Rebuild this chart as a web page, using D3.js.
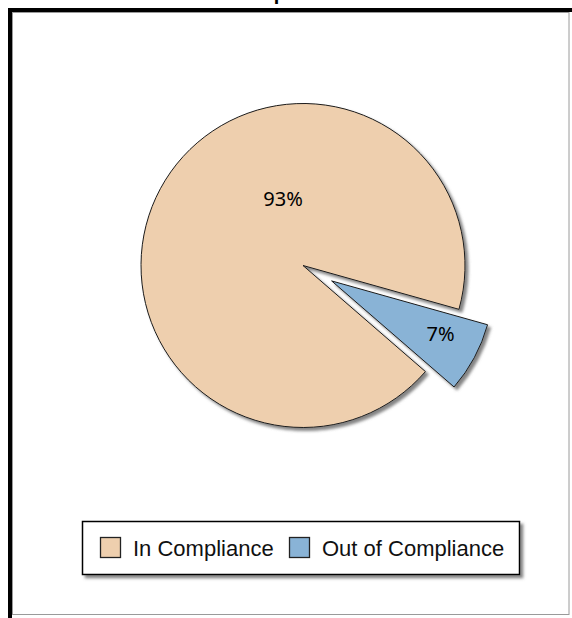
<!DOCTYPE html>
<html><head><meta charset="utf-8">
<script src="https://cdn.jsdelivr.net/npm/d3@7"></script>
<style>html,body{margin:0;padding:0;background:#fff;overflow:hidden}</style>
</head><body>
<svg id="chart" width="572" height="618"></svg>
<script>
const title = "Compliance";
const categories = ["In Compliance", "Out of Compliance"];
const values = [93, 7];
const labels = ["93%", "7%"];
const colors = ["#EECFAE", "#89B3D6"];

const W = 572, H = 618;
const svg = d3.select("#chart");
const defs = svg.append("defs");
const f = defs.append("filter").attr("id","shadow").attr("x","-20%").attr("y","-20%").attr("width","140%").attr("height","140%");
f.append("feDropShadow").attr("dx",3).attr("dy",3).attr("stdDeviation",1.5).attr("flood-color","#6e6e6e").attr("flood-opacity",0.85);

// frame
svg.append("rect").attr("x",12.5).attr("y",12.5).attr("width",556.5).attr("height",602)
  .attr("fill","#fff").attr("stroke","#9a9a9a").attr("stroke-width",1);
svg.append("line").attr("x1",8).attr("x2",W).attr("y1",10).attr("y2",10).attr("stroke","#000").attr("stroke-width",4);
svg.append("line").attr("x1",10).attr("x2",10).attr("y1",8).attr("y2",H).attr("stroke","#000").attr("stroke-width",4);

svg.append("text").attr("x",W/2).attr("y",-0.5).attr("text-anchor","middle")
  .attr("font-family","Liberation Sans, Arial, sans-serif").attr("font-weight","bold").attr("font-size",20)
  .text(title);

// pie
const cx = 303, cy = 265.5, R = 162, explode = 32.5;
const deg = Math.PI/180;
const start = 130.9*deg;
const pie = d3.pie().sort(null).value(d=>d).startAngle(start).endAngle(start + 2*Math.PI);
const arcs = pie(values);
const arc = d3.arc().innerRadius(0).outerRadius(R);
const g = svg.append("g").attr("transform",`translate(${cx},${cy})`);

const explodeIdx = 1;
function offset(d,i){
  if(i!==explodeIdx) return [0,0];
  const a = (d.startAngle+d.endAngle)/2;
  return [Math.sin(a)*explode, -Math.cos(a)*explode];
}
g.selectAll("path.slice").data(arcs).join("path").attr("class","slice")
  .attr("d",arc)
  .attr("transform",(d,i)=>{const o=offset(d,i);return `translate(${o[0]},${o[1]})`;})
  .attr("fill",(d,i)=>colors[i]).attr("stroke","#1a1a1a").attr("stroke-width",1)
  .attr("stroke-linejoin","miter")
  .attr("filter","url(#shadow)");

// labels (polar placement: angle relative to slice, radius fraction)
const labelPlace = [{a:343.4, r:70/162}, {a:115.8, r:121/162}];
function labelPos(d,i){
  const o = offset(d,i);
  const a = labelPlace[i].a*deg, r = labelPlace[i].r*R;
  return [Math.sin(a)*r + o[0], -Math.cos(a)*r + o[1]];
}
g.selectAll("text.lbl").data(arcs).join("text").attr("class","lbl")
  .attr("x",(d,i)=>labelPos(d,i)[0]).attr("y",(d,i)=>labelPos(d,i)[1])
  .attr("text-anchor","middle").attr("dominant-baseline","central")
  .attr("font-family","Noto Sans, Open Sans, sans-serif").attr("font-size",20)
  .attr("fill","#000")
  .text((d,i)=>labels[i]);

// legend
const lg = svg.append("g");
lg.append("rect").attr("x",82.5).attr("y",521.5).attr("width",437).attr("height",53)
  .attr("fill","#fff").attr("stroke","#000").attr("stroke-width",1.5).attr("filter","url(#shadow)");
const legX = [100, 289];
const items = lg.selectAll("g.item").data(categories).join("g").attr("class","item")
  .attr("transform",(d,i)=>`translate(${legX[i]},537)`);
items.append("rect").attr("x",0.5).attr("y",0.5).attr("width",20).attr("height",20)
  .attr("fill",(d,i)=>colors[i]).attr("stroke","#222").attr("stroke-width",1.3);
items.append("text").attr("x",33).attr("y",18.5)
  .attr("font-family","Liberation Sans, Arial, sans-serif").attr("font-size",22).attr("fill","#111")
  .text(d=>d);
</script>
</body></html>
